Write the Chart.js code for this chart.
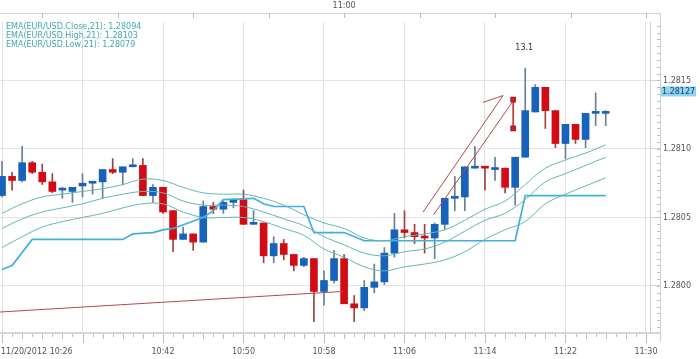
<!DOCTYPE html>
<html><head><meta charset="utf-8">
<script src="https://cdn.jsdelivr.net/npm/chart.js@4.4.0/dist/chart.umd.min.js"></script>
<style>html,body{margin:0;padding:0;background:#fff}#wrap{width:700px;height:359px;position:relative}</style>
</head><body><div id="wrap"><canvas id="c" width="700" height="359"></canvas></div>
<script>
// ---- data (minutes after 10:26 on 11/20/2012) ----
const candleMinute = [0,1,2,3,4,5,6,7,8,9,10,11,12,13,14,15,16,17,18,19,20,21,22,23,24,25,26,27,28,29,30,31,32,33,34,35,36,37,38,39,40,41,42,43,44,45,46,47,48,49,50,51,52,53,54,55,56,57,58,59,60];
const openP  = [1.28066,1.28080,1.28077,1.28090,1.28083,1.28076,1.28070,1.28069,1.28073,1.28075,1.28076,1.28085,1.28083,1.28087,1.28088,1.28066,1.28072,1.28055,1.28034,1.28038,1.28032,1.28058,1.28056,1.28061,1.28063,1.28045,1.28046,1.28022,1.28031,1.28023,1.28015,1.28020,1.27996,1.28004,1.28020,1.27987,1.27984,1.27999,1.28003,1.28024,1.28041,1.28039,1.28036,1.28035,1.28045,1.28064,1.28065,1.28086,1.28087,1.28085,1.28086,1.28072,1.28094,1.28127,1.28145,1.28128,1.28104,1.28118,1.28107,1.28126,1.28126];
const highP  = [1.28091,1.28083,1.28102,1.28091,1.28089,1.28082,1.28072,1.28072,1.28082,1.28076,1.28085,1.28093,1.28087,1.28093,1.28093,1.28074,1.28072,1.28055,1.28043,1.28038,1.28062,1.28061,1.28062,1.28063,1.28070,1.28055,1.28046,1.28036,1.28034,1.28023,1.28021,1.28020,1.28011,1.28026,1.28023,1.27993,1.28004,1.28016,1.28028,1.28053,1.28055,1.28045,1.28045,1.28046,1.28064,1.28080,1.28087,1.28102,1.28087,1.28094,1.28086,1.28094,1.28159,1.28147,1.28145,1.28128,1.28118,1.28118,1.28126,1.28141,1.28128];
const lowP   = [1.28065,1.28070,1.28076,1.28082,1.28074,1.28068,1.28064,1.28061,1.28065,1.28067,1.28064,1.28082,1.28074,1.28087,1.28066,1.28061,1.28053,1.28025,1.28034,1.28026,1.28032,1.28053,1.28053,1.28057,1.28045,1.28045,1.28017,1.28017,1.28019,1.28011,1.28014,1.27974,1.27986,1.28002,1.27987,1.27974,1.27982,1.27995,1.28001,1.28021,1.28035,1.28031,1.28024,1.28020,1.28041,1.28055,1.28055,1.28086,1.28070,1.28077,1.28068,1.28059,1.28094,1.28127,1.28115,1.28101,1.28093,1.28104,1.28101,1.28117,1.28117];
const closeP = [1.28080,1.28077,1.28090,1.28083,1.28076,1.28069,1.28071,1.28072,1.28075,1.28076,1.28085,1.28083,1.28087,1.28088,1.28066,1.28072,1.28054,1.28034,1.28038,1.28032,1.28058,1.28056,1.28061,1.28063,1.28045,1.28046,1.28022,1.28031,1.28023,1.28015,1.28020,1.27996,1.28004,1.28020,1.27987,1.27984,1.27999,1.28003,1.28024,1.28041,1.28039,1.28036,1.28035,1.28045,1.28064,1.28065,1.28087,1.28087,1.28086,1.28086,1.28072,1.28094,1.28128,1.28145,1.28128,1.28104,1.28118,1.28107,1.28126,1.28127,1.28127];

const emaMinute = [0,2,4,6,8,10,12,14,16,18,20,22,24,26,28,30,32,34,36,38,40,42,44,46,48,50,52,54,56,58,60];
const emaHigh  = [1.28053,1.28060,1.28065,1.28067,1.28069,1.28071,1.28074,1.28078,1.28077,1.28072,1.28068,1.28067,1.28067,1.28064,1.28059,1.28052,1.28046,1.28042,1.28035,1.28033,1.28036,1.28038,1.28041,1.28048,1.28056,1.28062,1.28074,1.28086,1.28092,1.28097,1.28103];
const emaClose = [1.28042,1.28049,1.28054,1.28057,1.28060,1.28064,1.28067,1.28069,1.28068,1.28062,1.28059,1.28059,1.28058,1.28054,1.28049,1.28044,1.28036,1.28030,1.28024,1.28022,1.28025,1.28027,1.28032,1.28040,1.28048,1.28053,1.28063,1.28076,1.28082,1.28088,1.28094];
const emaLow   = [1.28028,1.28036,1.28043,1.28047,1.28050,1.28053,1.28057,1.28060,1.28060,1.28054,1.28050,1.28050,1.28050,1.28047,1.28042,1.28037,1.28027,1.28021,1.28014,1.28011,1.28014,1.28016,1.28019,1.28025,1.28034,1.28041,1.28047,1.28060,1.28067,1.28073,1.28079];

const stepMinute = [0,1,3,12,13,15,16,17,20,21,22,25,26,27,30,31,34,36,51,52,60];
const stepLevel  = [1.28012,1.28015,1.28034,1.28034,1.28038,1.28039,1.28041,1.28042,1.28050,1.28055,1.28063,1.28064,1.28060,1.28058,1.28058,1.28039,1.28039,1.28033,1.28033,1.28066,1.28066];

// hand-drawn annotations (minute, price)
const trendLines = [
  {x:[-0.2, 33.9], y:[1.27981, 1.27996]},
  {x:[41.85, 49.8], y:[1.28054, 1.28139]},
  {x:[47.8, 49.8], y:[1.28134, 1.28139]},
  {x:[42.9, 50.7], y:[1.28052, 1.28134]}
];
const measureMinute = [50.8, 50.8];
const measurePrice  = [1.28136, 1.28115];
const measureLabel = {text:'13.1', x:51.9, y:1.28174};

const legendNames = ['EMA(EUR/USD.Close,21)', 'EMA(EUR/USD.High,21)', 'EMA(EUR/USD.Low,21)'];
const legendValues = ['1.28094', '1.28103', '1.28079'];
const lastPriceLabel = '1.28127';

const xTickMinutes = [0,8,16,24,32,40,48,56,64];
const xTickLabels = ['11/20/2012 10:26','','10:42','10:50','10:58','11:06','11:14','11:22','11:30'];
const topTickMinutes = [4,11.5,19,26.5,34,41.5,49,56.5,64];
const topTickLabels = ['','','','','11:00','','','',''];
const yTickValues = [1.2800,1.2805,1.2810,1.2815];
const yTickLabels = ['1.2800','1.2805','1.2810','1.2815'];

const X_MIN = -0.2, X_MAX = 64.5, Y_MIN = 1.279664, Y_MAX = 1.281927;

const UP = '#1762bb', DOWN = '#d20c14', WICK_UP = '#6b7f98', WICK_DOWN = '#a2403f';
const isUp = i => closeP[i] >= openP[i];
const FONT = 'DejaVu Sans';

const datasets = [];
['#63b6b2','#63b6b2','#63b6b2'].forEach((c, k) => {
  const arr = [emaClose, emaHigh, emaLow][k];
  datasets.push({type:'line', label: legendNames[k], data: emaMinute.map((m,i)=>({x:m,y:arr[i]})),
    borderColor:c, borderWidth:1, pointRadius:0, tension:0.35, order:1});
});
datasets.push({type:'line', label:'step', data: stepMinute.map((m,i)=>({x:m,y:stepLevel[i]})),
  borderColor:'#41b1dc', borderWidth:1.7, pointRadius:0, tension:0, order:1});
trendLines.forEach(t => datasets.push({type:'line', label:'trend', data: t.x.map((m,i)=>({x:m,y:t.y[i]})),
  borderColor:'#b24a50', borderWidth:1, pointRadius:0, tension:0, order:0}));
datasets.push({type:'line', label:'measure', data: measureMinute.map((m,i)=>({x:m,y:measurePrice[i]})),
  borderColor:'#c8242c', borderWidth:1.5, pointRadius:3, pointStyle:'rect', pointBackgroundColor:'#d0242c',
  pointBorderColor:'#b01c24', tension:0, order:0});
datasets.push({type:'bar', label:'wick', data: candleMinute.map((m,i)=>({x:m,y:[lowP[i],highP[i]]})),
  backgroundColor: candleMinute.map((m,i)=> isUp(i)?WICK_UP:WICK_DOWN), barThickness:1, grouped:false, order:3});
datasets.push({type:'bar', label:'body', data: candleMinute.map((m,i)=>({x:m,y:[openP[i],closeP[i]]})),
  backgroundColor: candleMinute.map((m,i)=> isUp(i)?UP:DOWN), barThickness:7, minBarLength:2, grouped:false, order:2});

const framePlugin = {
  id:'frame',
  beforeDatasetsDraw(chart){
    const {ctx, chartArea:ca, scales} = chart;
    ctx.save();
    ctx.fillStyle = '#d6d6d6';
    ctx.fillRect(0, ca.bottom, ca.right + 9, 2);
    ctx.strokeStyle = '#d0d0d0'; ctx.lineWidth = 1;
    ctx.beginPath();
    ctx.moveTo(0, ca.top - 8.5); ctx.lineTo(ca.right + 9.5, ca.top - 8.5);
    ctx.moveTo(ca.right + 9.5, ca.top - 8.5); ctx.lineTo(ca.right + 9.5, ca.bottom + 10);
    ctx.moveTo(ca.right - 0.5, ca.top); ctx.lineTo(ca.right - 0.5, ca.bottom);
    ctx.stroke();
    ctx.strokeStyle = '#bdbdbd';
    ctx.beginPath();
    topTickMinutes.forEach(m => { const x = Math.round(scales.x.getPixelForValue(m)) + 0.5; ctx.moveTo(x, ca.top - 9); ctx.lineTo(x, ca.top - 4); });
    for (let m = 0; m <= 64; m++) {
      const x = Math.round(scales.x.getPixelForValue(m)) + 0.5;
      const len = (m % 8 === 0) ? 9 : (m % 2 === 0 ? 5 : 3);
      ctx.moveTo(x, ca.bottom + 2); ctx.lineTo(x, ca.bottom + 2 + len);
    }
    for (let k = 0; k <= 46; k++) {
      const v = 1.2797 + k * 0.00005;
      if (v > Y_MAX) break;
      const y = Math.round(scales.y.getPixelForValue(v)) + 0.5;
      ctx.moveTo(ca.right + 6, y); ctx.lineTo(ca.right + 9, y);
    }
    ctx.stroke();
    ctx.restore();
  },
  afterDraw(chart){
    const {ctx, chartArea:ca, scales} = chart;
    ctx.save();
    ctx.font = '8px "' + FONT + '"';
    ctx.textBaseline = 'middle'; ctx.textAlign = 'left';
    ctx.fillStyle = '#3ea8ad';
    legendNames.forEach((n,k) => ctx.fillText(n + ': ' + legendValues[k], ca.left + 6, ca.top + 5 + k * 9));
    ctx.fillStyle = '#333'; ctx.textAlign = 'center';
    ctx.fillText(measureLabel.text, scales.x.getPixelForValue(measureLabel.x), scales.y.getPixelForValue(measureLabel.y));
    ctx.fillStyle = '#555'; ctx.textAlign = 'left';
    ctx.fillText(xTickLabels[0], ca.left + 1, ca.bottom + 20);
    const yb = scales.y.getPixelForValue(yTickValues[3]) + 11;
    ctx.fillStyle = '#8fd2f2';
    ctx.fillRect(ca.right + 10, yb - 5, 35, 10);
    ctx.fillStyle = '#18406a';
    ctx.fillText(lastPriceLabel, ca.right + 11, yb);
    ctx.restore();
  }
};

new Chart(document.getElementById('c'), {
  data: {datasets},
  options: {
    responsive:false, animation:false, devicePixelRatio:1,
    layout:{padding:0, autoPadding:false},
    plugins:{legend:{display:false}, tooltip:{enabled:false}},
    scales:{
      x:{type:'linear', position:'bottom', min:X_MIN, max:X_MAX, offset:false,
        afterBuildTicks: s => { s.ticks = xTickMinutes.map(v=>({value:v})); },
        afterFit: s => { s.height = 27; },
        grid:{color:'#e3e3e3', drawTicks:false, offset:false}, border:{display:false},
        ticks:{autoSkip:false, maxRotation:0, padding:0, color:'#555', font:{family:FONT, size:8, lineHeight:'40px'},
          callback:(v, i) => i === 0 ? '' : xTickLabels[i]}},
      xTop:{type:'linear', position:'top', min:X_MIN, max:X_MAX, offset:false,
        afterBuildTicks: s => { s.ticks = topTickMinutes.map(v=>({value:v})); },
        afterFit: s => { s.height = 22; },
        grid:{display:false, drawTicks:false, offset:false}, border:{display:false},
        ticks:{autoSkip:false, maxRotation:0, padding:0, color:'#555', font:{family:FONT, size:8, lineHeight:'32px'},
          callback:(v, i) => topTickLabels[i]}},
      y:{type:'linear', position:'right', min:Y_MIN, max:Y_MAX,
        afterBuildTicks: s => { s.ticks = yTickValues.map(v=>({value:v})); },
        afterFit: s => { s.width = 49; },
        grid:{color:'#e3e3e3', drawTicks:true, tickLength:9, tickColor:'#d0d0d0'}, border:{display:false},
        ticks:{padding:3, color:'#555', font:{family:FONT, size:8}, callback:(v, i) => yTickLabels[i]}}
    }
  },
  plugins:[framePlugin]
});
</script></body></html>
